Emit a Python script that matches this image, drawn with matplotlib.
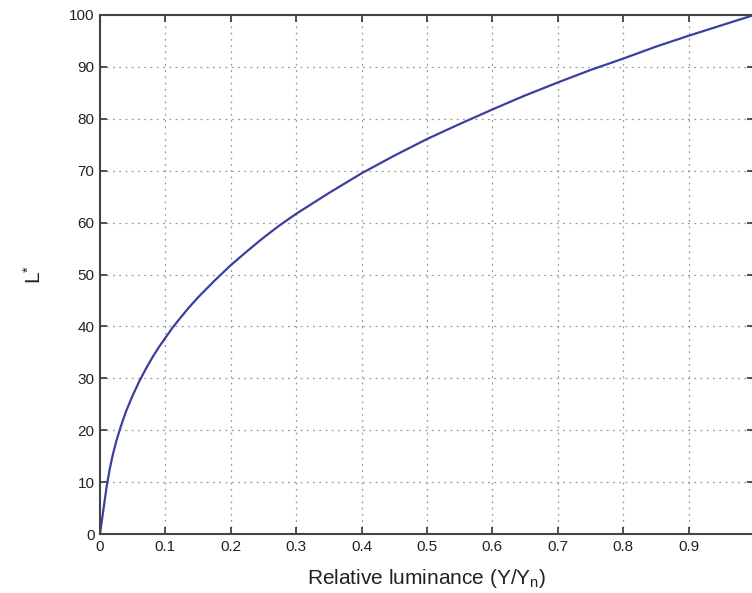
import matplotlib.pyplot as plt

# values
luminance = [0, 0.001, 0.002, 0.004, 0.006, 0.008, 0.01, 0.015, 0.02, 0.025,
             0.03, 0.035, 0.04, 0.05, 0.06, 0.07, 0.08, 0.09, 0.1, 0.11, 0.12,
             0.135, 0.15, 0.175, 0.2, 0.225, 0.25, 0.275, 0.3, 0.35, 0.4, 0.45,
             0.5, 0.55, 0.6, 0.65, 0.7, 0.75, 0.8, 0.85, 0.9, 0.95, 1.0]
lightness = [0, 0.9, 1.8, 3.6, 5.4, 7.2, 9.0, 12.6, 15.5, 17.9,
             20.0, 21.9, 23.7, 26.7, 29.4, 31.8, 34.0, 36.0, 37.8, 39.6, 41.2,
             43.5, 45.6, 48.8, 51.8, 54.5, 57.1, 59.5, 61.7, 65.7, 69.5, 72.9,
             76.1, 79.0, 81.8, 84.5, 87.0, 89.4, 91.6, 93.9, 96.0, 98.0, 100.0]
xticks = [0, 0.1, 0.2, 0.3, 0.4, 0.5, 0.6, 0.7, 0.8, 0.9]
xticklabels = ["0", "0.1", "0.2", "0.3", "0.4", "0.5", "0.6", "0.7", "0.8", "0.9"]
yticks = list(range(0, 101, 10))

plt.rcParams["font.family"] = ["Liberation Sans", "DejaVu Sans"]
plt.rcParams["mathtext.fontset"] = "custom"
plt.rcParams["mathtext.rm"] = "Liberation Sans"
plt.rcParams["mathtext.it"] = "Liberation Sans"

fig = plt.figure(figsize=(7.52, 5.93), dpi=100)
ax = fig.add_axes([100 / 752, 59 / 593, 654 / 752, 519 / 593])

ax.plot(luminance, lightness, color="#3b3f9e", lw=1.6)

ax.set_xlim(0, 1)
ax.set_ylim(0, 100)
ax.set_xticks(xticks)
ax.set_xticklabels(xticklabels)
ax.set_yticks(yticks)
ax.grid(True, ls=(0, (1.5, 3.5)), color="#9a9a9a", lw=0.9)
ax.tick_params(direction="in", length=5, width=1.2, top=True, right=True,
               labelsize=11, colors="#333333", labelcolor="#222222", pad=4)
for sp in ax.spines.values():
    sp.set_linewidth(1.5)
    sp.set_color("#444444")

ax.set_xlabel("Relative luminance (Y/Y$_\\mathrm{n}$)", fontsize=15,
              color="#222222", labelpad=10)
ax.set_ylabel("L$^{*}$", fontsize=15, color="#222222")
ax.yaxis.set_label_coords(-0.085, 0.5)

fig.savefig("out.png", dpi=100)
